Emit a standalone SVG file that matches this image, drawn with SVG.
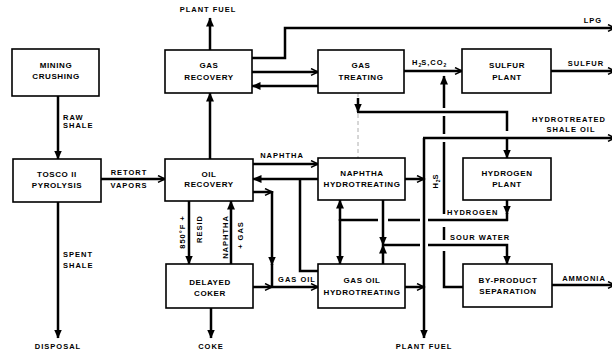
<svg xmlns="http://www.w3.org/2000/svg" width="612" height="354" viewBox="0 0 612 354">
<style>
.box{fill:#fff;stroke:#000;stroke-width:1.6}
.bt{font-family:"Liberation Sans",Arial,sans-serif;font-weight:bold;font-size:8px;letter-spacing:0.6px;text-anchor:middle;fill:#000}
.lt{font-family:"Liberation Sans",Arial,sans-serif;font-weight:bold;font-size:7.5px;letter-spacing:1px;fill:#000}
.mid{text-anchor:middle}
.ln{fill:none;stroke:#000;stroke-width:2.5}
.thin{fill:none;stroke:#999;stroke-width:0.8;stroke-dasharray:4 3}
</style>
<defs>
<marker id="fa" markerWidth="10" markerHeight="10" refX="8.5" refY="4" orient="auto" markerUnits="userSpaceOnUse"><path d="M0,0 L9,4 L0,8 z" fill="#000"/></marker>
<marker id="oa" markerWidth="10" markerHeight="10" refX="8" refY="4" orient="auto" markerUnits="userSpaceOnUse"><path d="M1,0.6 L8,4 L1,7.4" fill="none" stroke="#000" stroke-width="1.6"/></marker>
</defs>
<rect width="612" height="354" fill="#fff"/>

<g id="connectors">
<path class="ln" d="M58,96 V159" marker-end="url(#fa)"/>
<path class="ln" d="M101,179 H165" marker-end="url(#oa)"/>
<path class="ln" d="M58,202 V338" marker-end="url(#fa)"/>
<path class="ln" d="M210,159 V93" marker-end="url(#fa)"/>
<path class="ln" d="M210,50 V18" marker-end="url(#fa)"/>
<path class="ln" d="M252,58 H285 V28 H615" marker-end="url(#oa)"/>
<path class="ln" d="M252,72 H318" marker-end="url(#oa)"/>
<path class="ln" d="M318,86 H252" marker-end="url(#fa)"/>
<path class="ln" d="M404,71 H462" marker-end="url(#oa)"/>
<path class="ln" d="M551,71 H615" marker-end="url(#oa)"/>
<path class="ln" d="M463,287 H444 V251"/>
<path class="ln" d="M444,240 V227"/>
<path class="ln" d="M444,214 V142"/>
<path class="ln" d="M444,134 V116"/>
<path class="ln" d="M444,108 V76" marker-end="url(#fa)"/>
<path class="ln" d="M405,179 H424" marker-end="url(#oa)"/>
<path class="ln" d="M405,287 H424" marker-end="url(#oa)"/>
<path class="ln" d="M424,138 V338" marker-end="url(#fa)"/>
<path class="ln" d="M423,138 H615" marker-end="url(#oa)"/>
<path class="ln" d="M253,164 H318" marker-end="url(#oa)"/>
<path class="ln" d="M318,179 H253" marker-end="url(#fa)"/>
<path class="ln" d="M318,271 H300 V179"/>
<path class="ln" d="M253,192 H272" marker-end="url(#oa)"/>
<path class="ln" d="M272,191 V265" marker-end="url(#fa)"/>
<path class="ln" d="M272,264 V287"/>
<path class="ln" d="M253,287 H272" marker-end="url(#oa)"/>
<path class="ln" d="M272,287 H318" marker-end="url(#oa)"/>
<path class="ln" d="M189,201 V264" marker-end="url(#fa)"/>
<path class="ln" d="M231,264 V201" marker-end="url(#fa)"/>
<path class="ln" d="M211,308 V338" marker-end="url(#fa)"/>
<path class="thin" d="M358,93 V158"/>
<path class="ln" d="M358,98 V112" marker-end="url(#fa)"/>
<path class="ln" d="M357,112 H507 V131"/>
<path class="ln" d="M507,137 V158" marker-end="url(#fa)"/>
<path class="ln" d="M507,200 V214" marker-end="url(#fa)"/>
<path class="ln" d="M507,213 V221"/>
<path class="ln" d="M340,220 H378"/>
<path class="ln" d="M388,220 H420"/>
<path class="ln" d="M428,220 H508"/>
<path class="ln" d="M340,221 V200" marker-end="url(#fa)"/>
<path class="ln" d="M340,219 V264" marker-end="url(#fa)"/>
<path class="ln" d="M383,200 V245" marker-end="url(#fa)"/>
<path class="ln" d="M383,264 V245" marker-end="url(#fa)"/>
<path class="ln" d="M383,245 H420"/>
<path class="ln" d="M428,245 H507 V264" marker-end="url(#fa)"/>
<path class="ln" d="M552,285 H615" marker-end="url(#oa)"/>
</g>

<g id="mining"><rect class="box" x="12" y="49" width="87" height="47"/><text class="bt" x="56" y="68">MINING</text><text class="bt" x="56" y="79">CRUSHING</text></g>
<g id="tosco"><rect class="box" x="13" y="159" width="88" height="43"/><text class="bt" x="57" y="177">TOSCO II</text><text class="bt" x="57" y="188">PYROLYSIS</text></g>
<g id="gas-recovery"><rect class="box" x="165" y="50" width="87" height="43"/><text class="bt" x="209" y="68">GAS</text><text class="bt" x="209" y="80">RECOVERY</text></g>
<g id="oil-recovery"><rect class="box" x="165" y="159" width="88" height="42"/><text class="bt" x="209" y="176.5">OIL</text><text class="bt" x="209" y="187">RECOVERY</text></g>
<g id="delayed-coker"><rect class="box" x="166" y="264" width="87" height="44"/><text class="bt" x="210" y="285">DELAYED</text><text class="bt" x="210" y="296">COKER</text></g>
<g id="gas-treating"><rect class="box" x="318" y="50" width="86" height="43"/><text class="bt" x="361" y="68">GAS</text><text class="bt" x="361" y="80">TREATING</text></g>
<g id="sulfur-plant"><rect class="box" x="462" y="49" width="89" height="44"/><text class="bt" x="507" y="68">SULFUR</text><text class="bt" x="507" y="80">PLANT</text></g>
<g id="naphtha-hydrotreating"><rect class="box" x="318" y="158" width="87" height="42"/><text class="bt" x="362" y="176">NAPHTHA</text><text class="bt" x="362" y="187">HYDROTREATING</text></g>
<g id="hydrogen-plant"><rect class="box" x="463" y="158" width="88" height="42"/><text class="bt" x="507" y="175.5">HYDROGEN</text><text class="bt" x="507" y="187">PLANT</text></g>
<g id="gas-oil-hydrotreating"><rect class="box" x="318" y="264" width="87" height="44"/><text class="bt" x="362" y="283">GAS OIL</text><text class="bt" x="362" y="294.5">HYDROTREATING</text></g>
<g id="byproduct-separation"><rect class="box" x="463" y="264" width="89" height="43"/><text class="bt" x="508" y="282.5">BY-PRODUCT</text><text class="bt" x="508" y="294">SEPARATION</text></g>

<g id="labels">
<text class="lt" x="63" y="120">RAW</text>
<text class="lt" x="63" y="128">SHALE</text>
<text class="lt mid" x="129" y="175">RETORT</text>
<text class="lt mid" x="129" y="188">VAPORS</text>
<text class="lt" x="63" y="257">SPENT</text>
<text class="lt" x="63" y="267.5">SHALE</text>
<text class="lt mid" x="58" y="349">DISPOSAL</text>
<text class="lt mid" x="208" y="12">PLANT FUEL</text>
<text class="lt mid" x="211" y="349">COKE</text>
<text class="lt mid" x="424" y="349">PLANT FUEL</text>
<text class="lt mid" x="282" y="158">NAPHTHA</text>
<text class="lt mid" x="297" y="282">GAS OIL</text>
<text class="lt" x="412" y="65">H<tspan dy="2" font-size="5" letter-spacing="0">2</tspan><tspan dy="-2">S,CO</tspan><tspan dy="2" font-size="5" letter-spacing="0">2</tspan></text>
<text class="lt mid" x="593" y="23">LPG</text>
<text class="lt mid" x="586" y="66">SULFUR</text>
<text class="lt mid" x="569" y="122">HYDROTREATED</text>
<text class="lt mid" x="571" y="132">SHALE OIL</text>
<text class="lt mid" x="584" y="281">AMMONIA</text>
<text class="lt" x="447" y="215">HYDROGEN</text>
<text class="lt" x="450" y="240">SOUR WATER</text>
<text class="lt mid" transform="translate(438,181) rotate(-90)">H<tspan dy="2" font-size="5" letter-spacing="0">2</tspan><tspan dy="-2">S</tspan></text>
<text class="lt mid" transform="translate(185,232) rotate(-90)">850°F +</text>
<text class="lt mid" transform="translate(202,229) rotate(-90)">RESID</text>
<text class="lt mid" transform="translate(228,237) rotate(-90)">NAPHTHA</text>
<text class="lt mid" transform="translate(243,235) rotate(-90)">+ GAS</text>
</g>
</svg>
